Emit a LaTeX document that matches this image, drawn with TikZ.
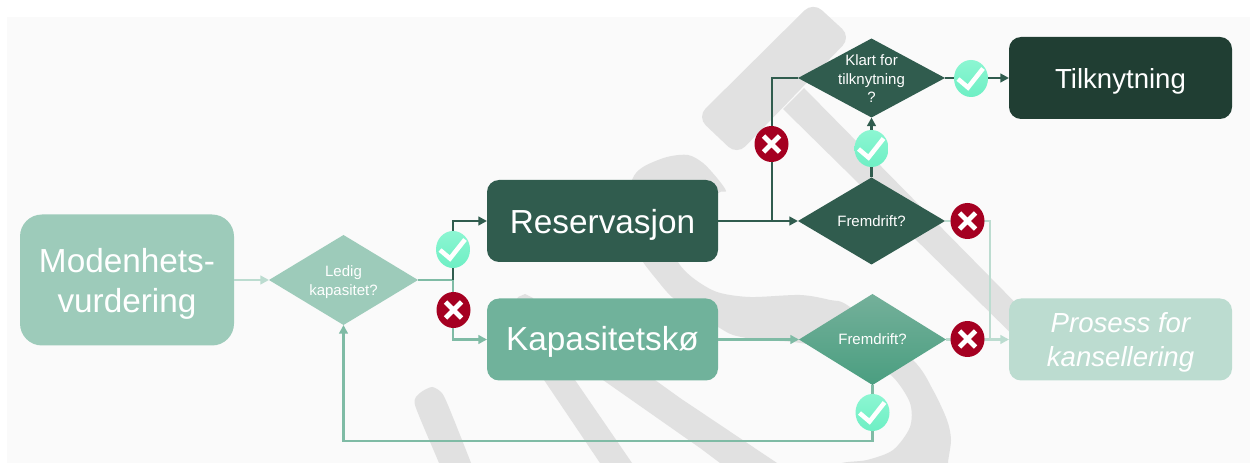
\documentclass[tikz,border=0pt]{standalone}
\usepackage{fontspec}
\setmainfont{Liberation Sans}
\usetikzlibrary{shapes.geometric,arrows.meta}
\definecolor{bgc}{HTML}{FAFAFA}
\definecolor{wm}{HTML}{E1E1E1}
\definecolor{cmod}{HTML}{9DCBBA}
\definecolor{cdark}{HTML}{305C4E}
\definecolor{cmid}{HTML}{70B29B}
\definecolor{cdeep}{HTML}{203E33}
\definecolor{cpale}{HTML}{BCDCD0}
\definecolor{cline}{HTML}{7FBBA5}
\definecolor{cred}{HTML}{A50021}
\definecolor{oktop}{HTML}{8CF6D2}
\definecolor{okbot}{HTML}{6EEFC4}
\definecolor{grtop}{HTML}{74B09A}
\definecolor{grbot}{HTML}{4A9E80}
\tikzset{
  box/.style={rectangle,rounded corners=9pt,inner sep=0pt,outer sep=0pt,minimum width=173.25pt,minimum height=61.5pt},
  bigtext/.style={text=white,align=center,inner sep=0pt,yshift=-3pt,font=\fontsize{25}{30}\selectfont},
  midtext/.style={text=white,align=center,inner sep=0pt,yshift=-2.4pt,font=\fontsize{20.7}{25.5}\selectfont},
  decision/.style={diamond,inner sep=0pt,outer sep=0pt,minimum width=110.25pt},
  dectext/.style={text=white,align=center,inner sep=0pt,font=\fontsize{11.25}{14}\selectfont},
  conn/.style={line width=1.7pt,-{Triangle[length=6.5pt,width=6.5pt]}},
  plain/.style={line width=1.7pt},
  okbadge/.style={ellipse,inner sep=0pt,minimum width=25.5pt,minimum height=27.75pt,top color=oktop,bottom color=okbot,
    path picture={\draw[white,line width=3.4pt,shift={(path picture bounding box.center)}] (-13,.5)--(-3,9)--(12,-10);}},
  nobadge/.style={ellipse,inner sep=0pt,minimum width=25.5pt,minimum height=27pt,fill=cred,
    path picture={\draw[white,line width=3.6pt,shift={(path picture bounding box.center)}] (-8,-8)--(8,8) (-8,8)--(8,-8);}},
}
\begin{document}
\begin{tikzpicture}[x=0.75pt,y=-0.75pt]
\useasboundingbox (0,0) rectangle (1250,463);
\fill[white] (0,0) rectangle (1250,463);
\fill[bgc] (7,17) rectangle (1250,463);
% watermark
\fill[wm,rounded corners=9pt] (813,2) -- (851,37) -- (737,155) -- (697,117) -- cycle;
\fill[wm] (804,88) -- (1050,338) -- (1030,352) -- (783,109) -- cycle;
\fill[wm] plot[smooth cycle,tension=.5] coordinates {(718,193) (726,191) (717,178) (703,163) (688,155) (667,157) (643,167) (632,180) (625,215) (630,240) (643,262) (657,280) (672,297) (700,318) (718,327) (733,335) (760,340) (793,342) (840,350) (868,362) (893,377) (910,403) (910,427) (893,450) (867,460) (837,465) (830,490) (948,490) (948,463) (951,440) (947,420) (933,390) (913,360) (850,307) (830,300) (800,295) (750,297) (717,292) (693,278) (678,262) (672,240) (690,215)};
\fill[wm] plot[smooth cycle,tension=.4] coordinates {(415,405) (420,393) (432,387) (442,393) (450,410) (471,463) (480,490) (449,490) (439,463)};
\fill[wm] (544,380) -- (600,463) -- (618,490) -- (650,490) -- (632,463) -- (575,380) -- (540,315) -- (533,298) -- (525,294) -- (518,297) -- (512,310) -- cycle;
\fill[wm] (603,380) -- (700,448) -- (720,463) -- (745,480) -- (800,480) -- (777,463) -- (680,398) -- (655,380) -- (600,335) -- (560,330) -- cycle;
% nodes
\node[box,fill=cmod,rounded corners=16.5pt,minimum width=160.5pt,minimum height=98.25pt,label={[bigtext]center:Modenhets-\\vurdering}] (mod) at (127,280) {};
\node[decision,fill=cmod,minimum width=111.75pt,minimum height=67.5pt,label={[dectext,yshift=-1.5pt]center:Ledig\\kapasitet?}] (led) at (343.5,280) {};
\node[box,fill=cdark,label={[bigtext]center:Reservasjon}] (res) at (602.5,221) {};
\node[box,fill=cmid,label={[bigtext,yshift=1pt]center:Kapasitetskø}] (kap) at (602.5,339.5) {};
\node[decision,fill=cdark,minimum height=59.25pt,label={[dectext,yshift=-.6pt]center:Klart for\\tilknytning\\?}] (klart) at (871.5,78) {};
\node[decision,fill=cdark,minimum height=65.25pt,label={[dectext,yshift=-.3pt]center:Fremdrift?}] (fremA) at (871.5,221) {};
\node[decision,top color=grtop,bottom color=grbot,minimum height=68.25pt,label={[dectext]center:Fremdrift?}] (fremB) at (872.5,339.5) {};
\node[box,fill=cdeep,minimum width=167.25pt,label={[midtext]center:Tilknytning}] (tilk) at (1120.5,78) {};
\node[box,fill=cpale,minimum width=167.25pt,label={[midtext]center:\itshape Prosess for\\\itshape kansellering}] (pros) at (1120.5,339.5) {};
% junctions
\coordinate (jun) at (453,280);
\coordinate (branch) at (772,221);
\coordinate (turn) at (990,221);
\coordinate (ret) at (872.5,441);
% connectors
\draw[conn,cpale] (mod.east) -- (led.west);
\draw[conn,cline] (jun) |- (kap.west);
\draw[plain,cline] (led.east) -- (jun);
\draw[conn,cdark] (jun) |- (res.west);
\draw[conn,cdark] (res.east) -- (fremA.west);
\draw[plain,cdark] (branch) |- (klart.west);
\draw[conn,cdark] (fremA.north) -- (klart.south);
\draw[conn,cdark] (klart.east) -- (tilk.west);
\draw[conn,cline] (kap.east) -- (fremB.west);
\draw[plain,cpale] (fremA.east) -- (turn) -- (turn |- pros.west);
\draw[conn,cpale] (fremB.east) -- (pros.west);
\draw[conn,cline] (fremB.south) -- (ret) -| (led.south);
% badges
\node[okbadge] (ok1) at (453,249.5) {};
\node[nobadge] (no1) at (453.5,310) {};
\node[nobadge] (no2) at (771.5,144) {};
\node[okbadge] (ok2) at (871.5,148.5) {};
\node[okbadge] (ok3) at (971,78.5) {};
\node[nobadge] (no3) at (967.5,221) {};
\node[nobadge] (no4) at (967.5,339) {};
\node[okbadge] (ok4) at (872.5,412.5) {};
\end{tikzpicture}
\end{document}
